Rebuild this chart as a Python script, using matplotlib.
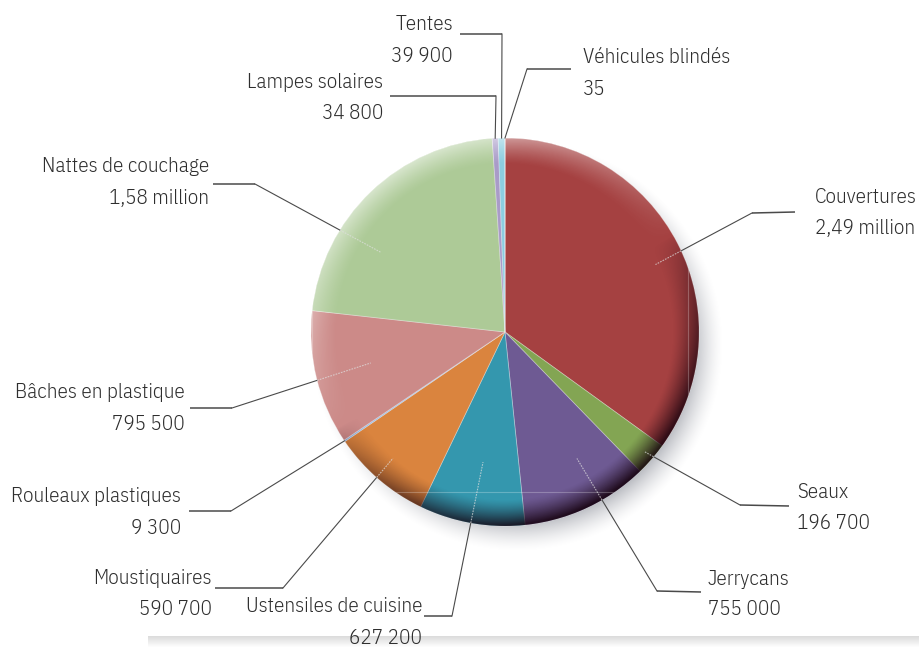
"""Répartition des articles distribués - camembert avec étiquettes reliées."""

import numpy as np
import matplotlib
matplotlib.use("Agg")
import matplotlib.pyplot as plt
from matplotlib.patches import Circle

W, H = 919, 648

# --- données -------------------------------------------------------------
labels = ["Couvertures", "Seaux", "Jerrycans", "Ustensiles de cuisine",
          "Moustiquaires", "Rouleaux plastiques", "Bâches en plastique",
          "Nattes de couchage", "Lampes solaires", "Tentes", "Véhicules blindés"]
values = [2490000, 196700, 755000, 627200, 590700, 9300, 795500,
          1580000, 34800, 39900, 35]
value_texts = ["2,49 million", "196 700", "755 000", "627 200", "590 700",
               "9 300", "795 500", "1,58 million", "34 800", "39 900", "35"]
colors = ["#a54141", "#83a553", "#6e5a93", "#3497ae", "#da843e", "#8db4e2",
          "#cc8a88", "#adca97", "#a99bc8", "#8ccde0", "#4f81bd"]

# --- mise en page (pixels de l'image, y vers le bas) ---------------------
CX, CY, R = 505, 332, 194
# position dans la part (0..1) et rayon relatif du point d'ancrage
anchor_t = [0.477, 0.53, 0.62, 0.51, 0.47, 0.5, 0.48, 0.67, 0.5, 0.5, 0.5]
anchor_r = [0.85, 0.95, 0.75, 0.68, 0.87, 1.0, 0.71, 0.76, 1.0, 1.0, 1.0]
elbows = [(752, 213), (740, 505), (657, 591), (452, 616), (283, 588),
          (231, 511), (232, 408), (255, 184), (496, 96), (502, 34), (527, 69)]
seg_ends = [(795, 212), (789, 506), (701, 592), (424, 616), (215, 588),
            (189, 511), (190, 408), (213, 184), (390, 96), (460, 34), (571, 69)]
text_pos = [(815, 195, 226), (797, 490, 521), (708, 577, 607), (422, 604, 636),
            (212, 576, 607), (181, 494, 526), (185, 390, 422), (209, 164, 196),
            (383, 80, 111), (453, 22, 54), (583, 55, 87)]
text_ha = ["left", "left", "left", "right", "right", "right", "right",
           "right", "right", "right", "left"]

FONT = ["IBM Plex Sans Condensed", "DejaVu Sans"]
FONT_WEIGHT = 300
TXT_COLOR = "#2e2e2e"
LINE_COLOR = "#4a4a4a"


def P(pt):
    """pixel (x, y-bas) -> coordonnées du graphique (y-haut)."""
    return pt[0], H - pt[1]


def circle_hit(p_out, p_in, cx, cy, r):
    """point où le segment p_out -> p_in coupe le cercle."""
    p0 = np.array(p_out, float)
    d = np.array(p_in, float) - p0
    f = p0 - np.array([cx, cy])
    a = d @ d
    b = 2 * f @ d
    c = f @ f - r * r
    disc = b * b - 4 * a * c
    if disc < 0:
        return tuple(p_in)
    s = (-b - np.sqrt(disc)) / (2 * a)
    s = min(max(s, 0.0), 1.0)
    return tuple(p0 + s * d)


fig = plt.figure(figsize=(W / 100, H / 100), dpi=100)
ax = fig.add_axes([0, 0, 1, 1])
cy = H - CY

# taille de police : "Couvertures" fait ~102 px de large dans l'original
probe = fig.text(0, 0, labels[0], fontsize=10, family=FONT, weight=FONT_WEIGHT)
fig.canvas.draw()
probe_w = probe.get_window_extent().width
probe.remove()
fsize = 10 * 102 / probe_w

# ombre portée (en bas à droite) ; ligne 0 de l'image = haut de la figure
yy, xx = np.mgrid[0:H, 0:W]
dist = np.hypot(xx - (CX + 12), (H - yy) - (cy - 13))
sh = np.clip((R + 12 - dist) / 30.0, 0, 1) ** 1.5 * 0.6
shadow = np.zeros((H, W, 4))
shadow[..., 0] = 0.56
shadow[..., 1] = 0.57
shadow[..., 2] = 0.61
shadow[..., 3] = sh
ax.imshow(shadow, extent=(0, W, 0, H), origin="upper", zorder=1,
          interpolation="bilinear")

wedges, _ = ax.pie(values, colors=colors, startangle=90, counterclock=False,
                   center=(CX, cy), radius=R, frame=True,
                   wedgeprops=dict(edgecolor=(1, 1, 1, 0.35), linewidth=0.6))
for w in wedges:
    w.set_zorder(2)

# relief : éclairage en haut à gauche, bord sombre en bas à droite
n = 2 * R + 2
g = np.linspace(-1.005, 1.005, n)
u, v = np.meshgrid(g, g[::-1])
rr = np.hypot(u, v) + 1e-9
band = np.clip((rr - 0.87) / 0.13, 0, 1) ** 1.3
lx, ly = -0.5, 0.87
dot = (u * lx + v * ly) / rr
shade = np.zeros((n, n, 4))
alpha_l = band * np.clip(dot, 0, 1) * 0.5
alpha_d = band * (np.clip(-dot, 0, 1) ** 0.7) * 0.88
is_light = alpha_l > alpha_d
shade[..., 0] = np.where(is_light, 1.0, 0.08)
shade[..., 1] = np.where(is_light, 1.0, 0.0)
shade[..., 2] = np.where(is_light, 1.0, 0.05)
shade[..., 3] = np.maximum(alpha_l, alpha_d)
img = ax.imshow(shade, extent=(CX - R, CX + R, cy - R, cy + R), origin="upper",
                zorder=3, interpolation="bilinear")
img.set_clip_path(Circle((CX, cy), R, transform=ax.transData))

# cadre pâle visible sur le disque
frame_pts = [(312, 138), (688, 138), (688, 492), (312, 492), (312, 138)]
fx, fy = zip(*[P(p) for p in frame_pts])
fl, = ax.plot(fx, fy, color=(1, 1, 1, 0.25), lw=0.8, zorder=4)
fl.set_clip_path(Circle((CX, cy), R, transform=ax.transData))

# étiquettes et traits de rappel
for i, w in enumerate(wedges):
    th = np.deg2rad(w.theta1 + anchor_t[i] * (w.theta2 - w.theta1))
    anc = (CX + anchor_r[i] * R * np.cos(th), cy + anchor_r[i] * R * np.sin(th))
    elb = P(elbows[i])
    end = P(seg_ends[i])
    edge = circle_hit(elb, anc, CX, cy, R)
    ax.plot([end[0], elb[0]], [end[1], elb[1]], color=LINE_COLOR, lw=1.1,
            zorder=5, solid_capstyle="butt")
    ax.plot([elb[0], edge[0]], [elb[1], edge[1]], color=LINE_COLOR, lw=0.8,
            zorder=5)
    if anchor_r[i] < 0.98:
        ax.plot([edge[0], anc[0]], [edge[1], anc[1]],
                color=(0.88, 0.88, 0.88, 0.7), lw=0.8, ls=(0, (1.5, 1)), zorder=5)
    tx, y1, y2 = text_pos[i]
    for txt, ty in ((labels[i], y1), (value_texts[i], y2)):
        ax.text(tx, H - ty - 8, txt, ha=text_ha[i], va="baseline", fontsize=fsize,
                family=FONT, weight=FONT_WEIGHT, color=TXT_COLOR, zorder=6)

# ombre de page en bas
strip = np.linspace(0.86, 1.0, 12)[:, None] * np.ones((1, 10))
ax.imshow(strip, cmap="gray", vmin=0, vmax=1, extent=(148, W, 0, 12),
          aspect="auto", zorder=0, interpolation="bilinear")

ax.set_xlim(0, W)
ax.set_ylim(0, H)
ax.set_aspect("equal")
ax.axis("off")

fig.savefig("out.png", dpi=100)
